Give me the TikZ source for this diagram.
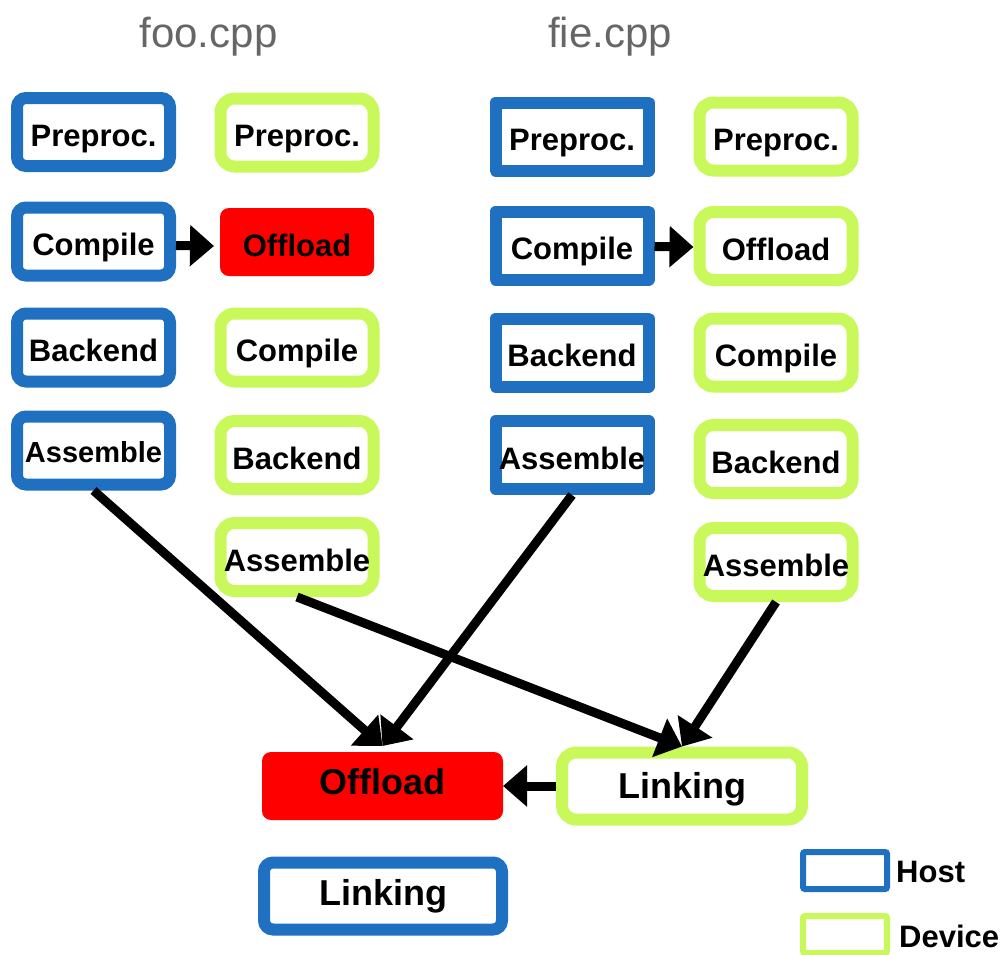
\documentclass[tikz,border=0pt]{standalone}
\usepackage{fontspec}
\setmainfont{Liberation Sans}
\usetikzlibrary{arrows.meta}
\definecolor{hostblue}{HTML}{1F70C0}
\definecolor{devgreen}{HTML}{C8F85A}
\definecolor{offred}{HTML}{FF0000}
\definecolor{titlegray}{HTML}{666666}

\begin{document}
\begin{tikzpicture}[x=1pt,y=-1pt,
  box/.style={minimum width=153pt, minimum height=68pt, inner sep=0pt,
    line width=12pt, fill=white, text height=28pt, text depth=0pt,
    font=\fontsize{31}{31}\selectfont\bfseries},
  hostround/.style={box, draw=hostblue, rounded corners=9pt},
  hostsharp/.style={box, draw=hostblue, line join=round},
  devbox/.style={box, draw=devgreen, rounded corners=14pt},
  offbox/.style={box, draw=none, fill=offred, rounded corners=9pt,
    minimum width=154pt},
  big/.style={font=\fontsize{36}{36}\selectfont\bfseries, text height=24pt,
    text depth=0pt, minimum width=240pt, minimum height=67pt},
  flow/.style={line width=9pt, -{Triangle[length=24pt,width=40pt]}},
  title/.style={anchor=base, text=titlegray, font=\fontsize{42}{42}\selectfont},
  keybox/.style={minimum width=84pt, minimum height=37pt, inner sep=0pt,
    line width=6pt, rounded corners=2pt},
  keytext/.style={anchor=west, inner sep=0pt, text height=22pt, text depth=0pt,
    font=\fontsize{31}{31}\selectfont\bfseries}
]
\useasboundingbox (0,0) rectangle (1006,954);

% source file titles
\node[title] (tfoo) at (208.5,47) {foo.cpp};
\node[title] (tfie) at (610,47) {fie.cpp};

% foo.cpp: host pipeline
\node[hostround] (hPre1)  at (93.5,132)   {Preproc.};
\node[hostround] (hCom1)  at (93.5,241.5) {Compile};
\node[hostround] (hBack1) at (93.5,347.5) {Backend};
\node[hostround, font=\fontsize{29}{29}\selectfont\bfseries, text height=24pt]
                 (hAsm1)  at (93.5,450.5) {Assemble};

% foo.cpp: device pipeline
\node[devbox] (dPre1)  at (297,132.5) {Preproc.};
\node[offbox] (offA)   at (297,242)   {Offload};
\node[devbox] (dCom1)  at (297,347.5) {Compile};
\node[devbox] (dBack1) at (297,455)   {Backend};
\node[devbox] (dAsm1)  at (297,557)   {Assemble};

% fie.cpp: host pipeline
\node[hostsharp] (hPre2)  at (572,136.5) {Preproc.};
\node[hostsharp] (hCom2)  at (572,245.5) {Compile};
\node[hostsharp] (hBack2) at (572,352.5) {Backend};
\node[hostsharp] (hAsm2)  at (572,455)   {Assemble};

% fie.cpp: device pipeline
\node[devbox] (dPre2)  at (776,136.5) {Preproc.};
\node[devbox] (dOff2)  at (776,246)   {Offload};
\node[devbox] (dCom2)  at (776,352.5) {Compile};
\node[devbox] (dBack2) at (776,459)   {Backend};
\node[devbox] (dAsm2)  at (776,562)   {Assemble};

% link stage
\node[offbox, big, minimum width=241pt, minimum height=68pt,
      text height=18pt, text depth=2pt] (offB) at (382.5,786) {Offload};
\node[devbox, big] (lnkD) at (682,786) {Linking};
\node[hostround, big, minimum width=238pt, text height=19pt, text depth=0pt]
      (lnkH) at (383,896) {Linking};

% legend
\node[keybox, draw=hostblue] (kHost) at (845,870.5) {};
\node[keybox, draw=devgreen] (kDev)  at (845,934.5) {};
\node[keytext] (lHost) at (896,871) {Host};
\node[keytext] (lDev)  at (899,936) {Device};

% connectors
\draw[flow] ([yshift=-4pt]hCom1.east) -- ([yshift=-4pt]offA.west);
\draw[flow] ([yshift=-1pt]hCom2.east) -- ([yshift=-1pt]dOff2.west);
\draw[flow] (hAsm1.south) -- (offB.north);
\draw[flow] (hAsm2.south) -- (offB.north);
\draw[flow] (dAsm1.south) -- (lnkD.north);
\draw[flow] (dAsm2.south) -- (lnkD.north);
\draw[flow, shorten >=-6pt] (lnkD.west) -- (offB.east);
\end{tikzpicture}
\end{document}
